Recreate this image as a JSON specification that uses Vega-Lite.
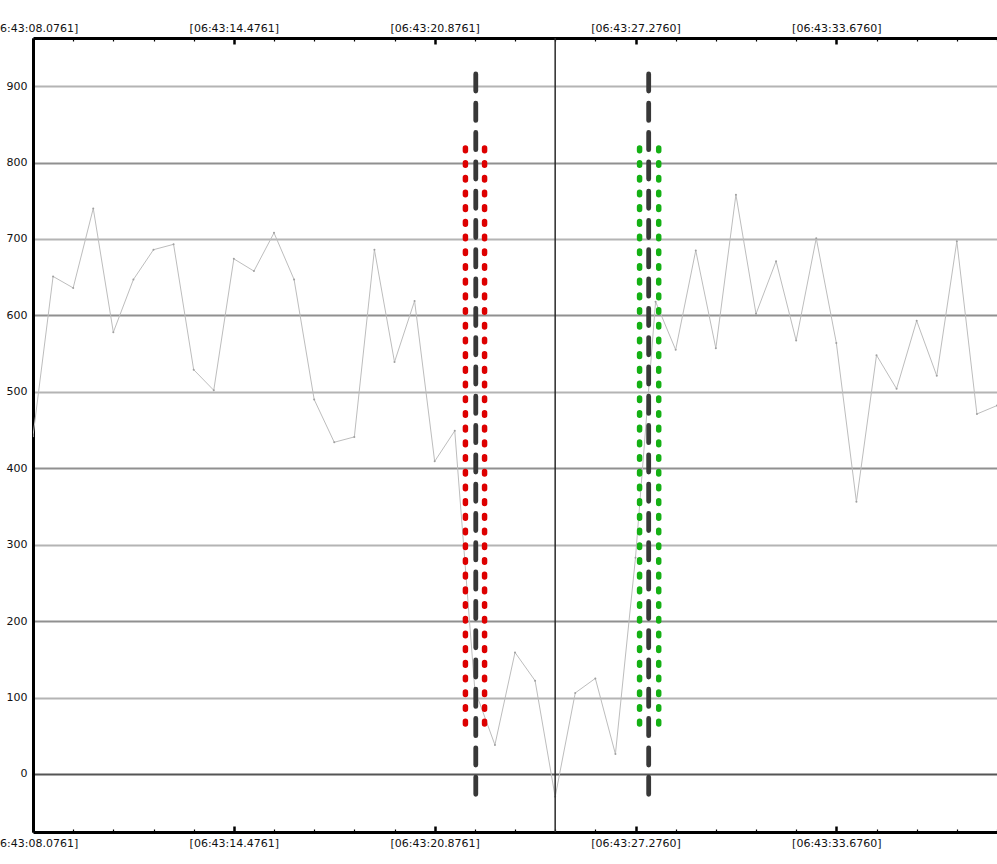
{
  "$schema": "https://vega.github.io/schema/vega-lite/v6.json",
  "width": 964,
  "height": 794,
  "autosize": {"type": "none"},
  "padding": {"left": 33, "top": 38, "right": 0, "bottom": 32},
  "background": "#ffffff",
  "config": {
    "view": {"stroke": null},
    "axis": {"labelFont": "DejaVu Sans", "labelFontSize": 11, "labelColor": "#111111", "titleFont": "DejaVu Sans"}
  },
  "datasets": {
    "series": [
      {"t": 0.00, "v": 442}, {"t": 0.64, "v": 651}, {"t": 1.28, "v": 636}, {"t": 1.92, "v": 740},
      {"t": 2.56, "v": 578}, {"t": 3.20, "v": 647}, {"t": 3.84, "v": 686}, {"t": 4.48, "v": 693},
      {"t": 5.12, "v": 529}, {"t": 5.76, "v": 502}, {"t": 6.40, "v": 674}, {"t": 7.04, "v": 658},
      {"t": 7.68, "v": 708}, {"t": 8.32, "v": 647}, {"t": 8.96, "v": 490}, {"t": 9.60, "v": 434},
      {"t": 10.24, "v": 441}, {"t": 10.88, "v": 686}, {"t": 11.52, "v": 539}, {"t": 12.16, "v": 619},
      {"t": 12.80, "v": 409}, {"t": 13.44, "v": 449}, {"t": 14.08, "v": 110}, {"t": 14.72, "v": 38},
      {"t": 15.36, "v": 159}, {"t": 16.00, "v": 122}, {"t": 16.64, "v": -30}, {"t": 17.28, "v": 106},
      {"t": 17.92, "v": 125}, {"t": 18.56, "v": 26}, {"t": 19.20, "v": 283}, {"t": 19.84, "v": 618},
      {"t": 20.48, "v": 555}, {"t": 21.12, "v": 685}, {"t": 21.76, "v": 557}, {"t": 22.40, "v": 758},
      {"t": 23.04, "v": 602}, {"t": 23.68, "v": 671}, {"t": 24.32, "v": 567}, {"t": 24.96, "v": 701},
      {"t": 25.60, "v": 564}, {"t": 26.24, "v": 356}, {"t": 26.88, "v": 548}, {"t": 27.52, "v": 504},
      {"t": 28.16, "v": 593}, {"t": 28.80, "v": 521}, {"t": 29.44, "v": 697}, {"t": 30.08, "v": 471},
      {"t": 30.72, "v": 482}
    ],
    "bands": [
      {"t": 13.78, "top": 819, "bottom": 58, "side": "sell"},
      {"t": 14.39, "top": 819, "bottom": 58, "side": "sell"},
      {"t": 19.33, "top": 819, "bottom": 58, "side": "buy"},
      {"t": 19.94, "top": 819, "bottom": 58, "side": "buy"}
    ],
    "centers": [
      {"t": 14.11, "top": 916, "bottom": -34},
      {"t": 19.62, "top": 916, "bottom": -34}
    ],
    "cursor": [{"t": 16.64}]
  },
  "layer": [
    {
      "data": {"name": "series"},
      "mark": {"type": "line", "color": "#bdbdbd", "strokeWidth": 1, "clip": true},
      "encoding": {
        "x": {
          "field": "t", "type": "quantitative",
          "scale": {"domain": [0, 30.72], "nice": false, "zero": false},
          "axis": {
            "orient": "bottom", "title": null, "grid": false,
            "values": [0, 1.28, 2.56, 3.84, 5.12, 6.4, 7.68, 8.96, 10.24, 11.52, 12.8, 14.08, 15.36, 16.64, 17.92, 19.2, 20.48, 21.76, 23.04, 24.32, 25.6, 26.88, 28.16, 29.44, 30.72],
            "labelExpr": "round(datum.value / 1.28) % 5 == 0 ? ['[06:43:08.0761]', '[06:43:14.4761]', '[06:43:20.8761]', '[06:43:27.2760]', '[06:43:33.6760]'][round(datum.value / 6.4)] : ''",
            "labelFlush": false, "labelOverlap": false, "labelPadding": 11,
            "domainColor": "#000000", "domainWidth": 3,
            "tickColor": "#000000",
            "tickSize": {"condition": {"test": "round(datum.value / 1.28) % 5 == 0", "value": -6}, "value": -3},
            "tickWidth": {"condition": {"test": "round(datum.value / 1.28) % 5 == 0", "value": 2.5}, "value": 1.2}
          }
        },
        "y": {
          "field": "v", "type": "quantitative",
          "scale": {"domain": [-76, 963], "nice": false, "zero": false},
          "axis": {
            "title": null, "values": [0, 100, 200, 300, 400, 500, 600, 700, 800, 900],
            "ticks": false, "labelPadding": 6,
            "domainColor": "#000000", "domainWidth": 3,
            "grid": true, "gridWidth": 2,
            "gridColor": {"condition": [{"test": "datum.value == 0", "value": "#555555"}, {"test": "datum.value % 200 == 0", "value": "#909090"}], "value": "#b4b4b4"}
          }
        }
      }
    },
    {
      "data": {"name": "series"},
      "mark": {"type": "point", "filled": true, "size": 4, "color": "#a0a0a0", "opacity": 1, "clip": true},
      "encoding": {
        "x": {
          "field": "t", "type": "quantitative",
          "axis": {
            "orient": "top", "title": null, "grid": false,
            "values": [0, 1.28, 2.56, 3.84, 5.12, 6.4, 7.68, 8.96, 10.24, 11.52, 12.8, 14.08, 15.36, 16.64, 17.92, 19.2, 20.48, 21.76, 23.04, 24.32, 25.6, 26.88, 28.16, 29.44, 30.72],
            "labelExpr": "round(datum.value / 1.28) % 5 == 0 ? ['[06:43:08.0761]', '[06:43:14.4761]', '[06:43:20.8761]', '[06:43:27.2760]', '[06:43:33.6760]'][round(datum.value / 6.4)] : ''",
            "labelFlush": false, "labelOverlap": false, "labelPadding": 11,
            "domainColor": "#000000", "domainWidth": 3,
            "tickColor": "#000000",
            "tickSize": {"condition": {"test": "round(datum.value / 1.28) % 5 == 0", "value": -6}, "value": -3},
            "tickWidth": {"condition": {"test": "round(datum.value / 1.28) % 5 == 0", "value": 2.5}, "value": 1.2}
          }
        },
        "y": {"field": "v", "type": "quantitative", "axis": null}
      }
    },
    {
      "data": {"name": "cursor"},
      "mark": {"type": "rule", "color": "#2a2a2a", "strokeWidth": 1.5},
      "encoding": {
        "x": {"field": "t", "type": "quantitative", "axis": null}
      }
    },
    {
      "data": {"name": "bands"},
      "mark": {"type": "rule", "strokeWidth": 5.5, "strokeCap": "round", "strokeDash": [2.6, 12.1]},
      "encoding": {
        "x": {"field": "t", "type": "quantitative", "axis": null},
        "y": {"field": "top", "type": "quantitative", "axis": null},
        "y2": {"field": "bottom"},
        "color": {"field": "side", "type": "nominal", "scale": {"domain": ["sell", "buy"], "range": ["#dd0000", "#14b014"]}, "legend": null}
      }
    },
    {
      "data": {"name": "centers"},
      "mark": {"type": "rule", "color": "#383838", "strokeWidth": 4.8, "strokeCap": "round", "strokeDash": [17.2, 12.1]},
      "encoding": {
        "x": {"field": "t", "type": "quantitative", "axis": null},
        "y": {"field": "top", "type": "quantitative", "axis": null},
        "y2": {"field": "bottom"}
      }
    }
  ],
  "resolve": {"axis": {"x": "independent", "y": "independent"}}
}
